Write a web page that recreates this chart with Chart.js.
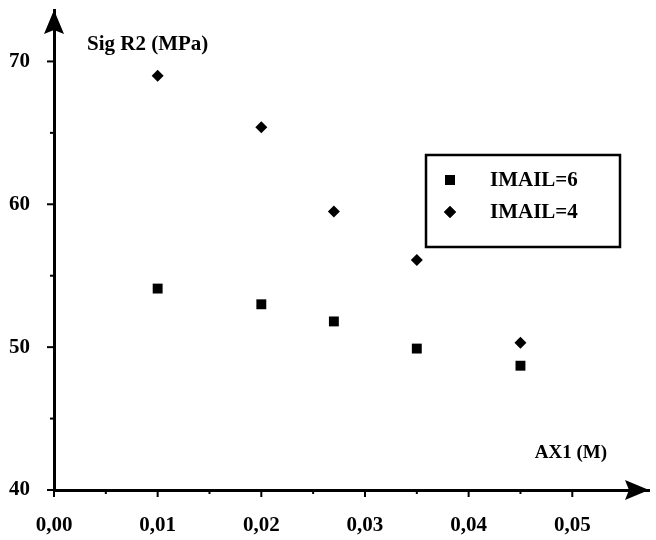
<!DOCTYPE html>
<html>
<head>
<meta charset="utf-8">
<script src="https://cdn.jsdelivr.net/npm/chart.js@4/dist/chart.umd.min.js"></script>
<style>
  html, body { margin: 0; padding: 0; background: #fff; }
  #wrap { width: 656px; height: 540px; position: relative; }
</style>
</head>
<body>
<div id="wrap"><canvas id="c" width="656" height="540"></canvas></div>
<script>
// Half-axis length AX1 (m) and stress Sig R2 (MPa) for two IMAIL settings
const ax1Values = [0.01, 0.02, 0.027, 0.035, 0.045];
const sigImail6 = [54.1, 53.0, 51.8, 49.9, 48.7];
const sigImail4 = [69.0, 65.4, 59.5, 56.1, 50.3];

const seriesNames = ['IMAIL=6', 'IMAIL=4'];
const xTickValues = [0, 0.005, 0.01, 0.015, 0.02, 0.025, 0.03, 0.035, 0.04, 0.045, 0.05];
const xLabelValues = [0, 0.01, 0.02, 0.03, 0.04, 0.05];
const yTickValues = [40, 45, 50, 55, 60, 65, 70];
const yLabelValues = [40, 50, 60, 70];

const xTitle = 'AX1 (M)';
const yTitle = 'Sig R2 (MPa)';

const INK = '#000';
const FONT = '"Liberation Serif", "Times New Roman", serif';

const isLabelled = (list, v) => list.some(t => Math.abs(t - v) < 1e-9);
const fmtComma = v => v.toFixed(2).replace('.', ',');

// Arrowheads, tick marks, axis captions and the boxed legend
const decorations = {
  id: 'decorations',
  afterDraw(chart) {
    const { ctx, chartArea: a, scales: { x, y } } = chart;
    ctx.save();
    ctx.fillStyle = INK;
    ctx.strokeStyle = INK;

    // tick marks
    ctx.lineWidth = 2;
    x.ticks.forEach(t => {
      const px = x.getPixelForValue(t.value);
      const len = isLabelled(xLabelValues, t.value) ? 7 : 4;
      ctx.beginPath(); ctx.moveTo(px, a.bottom); ctx.lineTo(px, a.bottom + len); ctx.stroke();
    });
    y.ticks.forEach(t => {
      const py = y.getPixelForValue(t.value);
      const len = isLabelled(yLabelValues, t.value) ? 7 : 4;
      ctx.beginPath(); ctx.moveTo(a.left, py); ctx.lineTo(a.left - len, py); ctx.stroke();
    });

    // arrowheads
    const ox = a.left, oy = a.bottom;
    ctx.beginPath();
    ctx.moveTo(ox, a.top);
    ctx.lineTo(ox - 10, a.top + 24);
    ctx.lineTo(ox, a.top + 20);
    ctx.lineTo(ox + 10, a.top + 24);
    ctx.closePath(); ctx.fill();
    ctx.beginPath();
    ctx.moveTo(a.right, oy);
    ctx.lineTo(a.right - 24, oy - 10);
    ctx.lineTo(a.right - 20, oy);
    ctx.lineTo(a.right - 24, oy + 10);
    ctx.closePath(); ctx.fill();

    // axis captions
    ctx.textBaseline = 'middle';
    ctx.font = 'bold 21px ' + FONT;
    ctx.textAlign = 'left';
    ctx.fillText(yTitle, a.left + 33, a.top + 35);
    ctx.font = 'bold 19px ' + FONT;
    ctx.textAlign = 'right';
    ctx.fillText(xTitle, a.right - 42, a.bottom - 37);

    // legend box
    const bx = 426, by = 155, bw = 194, bh = 92;
    ctx.lineWidth = 2.5;
    ctx.strokeRect(bx, by, bw, bh);
    const rows = [by + 25, by + 57];
    ctx.font = 'bold 21px ' + FONT;
    ctx.textAlign = 'left';
    chart.data.datasets.forEach((ds, i) => {
      Chart.helpers.drawPoint(ctx, {
        pointStyle: ds.pointStyle, radius: ds.pointRadius, rotation: 0, borderWidth: 0
      }, bx + 24, rows[i]);
      ctx.fill();
      ctx.fillText(ds.label, bx + 64, rows[i] + 1);
    });
    ctx.restore();
  }
};

// keep the plot area exactly where the axes sit
const noEdgePadding = s => {
  s.paddingTop = 0; s.paddingBottom = 0; s.paddingLeft = 0; s.paddingRight = 0;
};

new Chart(document.getElementById('c'), {
  type: 'scatter',
  data: {
    datasets: [
      {
        label: seriesNames[0],
        data: ax1Values.map((v, i) => ({ x: v, y: sigImail6[i] })),
        pointStyle: 'rect', pointRadius: 7, pointHoverRadius: 7,
        backgroundColor: INK, borderColor: INK, borderWidth: 0
      },
      {
        label: seriesNames[1],
        data: ax1Values.map((v, i) => ({ x: v, y: sigImail4[i] })),
        pointStyle: 'rectRot', pointRadius: 6, pointHoverRadius: 6,
        backgroundColor: INK, borderColor: INK, borderWidth: 0
      }
    ]
  },
  options: {
    responsive: false,
    animation: false,
    events: [],
    layout: { padding: { top: 10, right: 1, left: 0, bottom: 0 } },
    plugins: { legend: { display: false }, tooltip: { enabled: false } },
    scales: {
      x: {
        type: 'linear', min: 0, max: 0.0574,
        afterBuildTicks: s => { s.ticks = xTickValues.map(v => ({ value: v })); },
        afterFit: s => { s.height = 50; noEdgePadding(s); },
        grid: { display: false, drawTicks: false },
        border: { display: true, color: INK, width: 3 },
        ticks: {
          color: INK, padding: 23, maxRotation: 0, autoSkip: false,
          font: { family: FONT, size: 21, weight: 'bold' },
          callback: v => isLabelled(xLabelValues, v) ? fmtComma(v) : ''
        }
      },
      y: {
        type: 'linear', min: 40, max: 73.6,
        afterBuildTicks: s => { s.ticks = yTickValues.map(v => ({ value: v })); },
        afterFit: s => { s.width = 54; noEdgePadding(s); },
        grid: { display: false, drawTicks: false },
        border: { display: true, color: INK, width: 3 },
        ticks: {
          color: INK, padding: 24, autoSkip: false,
          font: { family: FONT, size: 21, weight: 'bold' },
          callback: v => isLabelled(yLabelValues, v) ? String(v) : ''
        }
      }
    }
  },
  plugins: [decorations]
});
</script>
</body>
</html>
